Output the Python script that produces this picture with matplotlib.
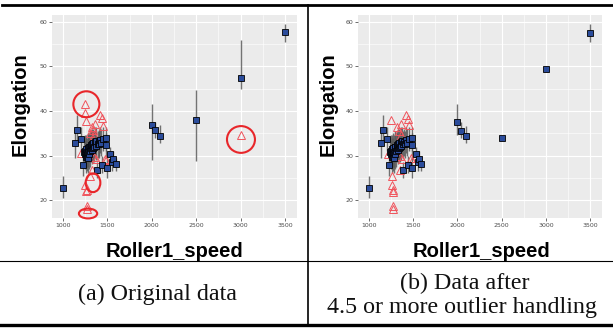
import matplotlib
matplotlib.use("Agg")
import matplotlib.pyplot as plt
from matplotlib.patches import Ellipse
from matplotlib.lines import Line2D
import numpy as np

# ---------------- data ----------------
# blue summary points: speed, mean, low, high  (panel a)
a_speed = [1000, 1135, 1162, 1203, 1226, 1237,
           1245, 1250, 1255, 1260, 1264, 1268, 1272, 1276, 1280, 1285, 1290, 1295,
           1300, 1306, 1312, 1318, 1324, 1330, 1336, 1342, 1350, 1358, 1366, 1374,
           1383, 1390, 1400, 1410, 1420, 1430, 1444, 1455, 1481, 1489, 1492, 1530,
           1556, 1564, 1594, 2000, 2041, 2094, 2500, 3000, 3500]
a_mean = [22.8, 32.9, 35.7, 33.7, 27.8, 30.8,
          30.3, 31.0, 29.6, 30.6, 31.4, 29.9, 30.8, 31.7, 29.5, 30.9, 31.9, 30.4,
          32.0, 31.0, 31.6, 32.3, 31.3, 32.5, 31.7, 32.8, 31.9, 33.0, 32.2, 33.2,
          26.7, 32.6, 33.1, 32.5, 33.4, 32.9, 27.9, 33.8, 33.9, 32.3, 27.3, 30.3,
          28.5, 29.3, 28.1, 36.9, 35.7, 34.4, 37.9, 47.3, 57.6]
a_low = [20.5, 29.5, 32.5, 31.0, 25.5, 27.5,
         27.0, 27.5, 26.0, 27.5, 28.0, 26.5, 27.5, 28.5, 26.0, 27.5, 28.5, 27.0,
         28.5, 27.5, 28.5, 29.0, 28.0, 29.0, 28.5, 29.5, 28.5, 29.5, 29.0, 30.0,
         25.0, 29.5, 30.0, 29.5, 30.5, 30.0, 26.0, 31.0, 31.0, 29.5, 25.0, 28.5,
         26.5, 27.5, 26.5, 29.0, 34.0, 32.8, 28.7, 45.0, 55.5]
a_high = [25.5, 36.0, 39.0, 36.5, 30.5, 34.0,
          33.5, 34.5, 33.0, 34.0, 34.5, 33.0, 34.0, 35.0, 33.0, 34.5, 35.0, 34.0,
          35.5, 34.5, 35.0, 35.5, 34.5, 36.0, 35.0, 36.0, 35.5, 36.5, 35.5, 36.5,
          28.5, 35.5, 36.0, 35.5, 36.5, 36.0, 30.0, 36.5, 36.5, 35.0, 30.0, 32.0,
          30.5, 31.0, 29.5, 41.5, 37.5, 36.8, 44.8, 56.0, 59.4]

# panel b: same points, with the outlier-affected summaries changed
b_speed = list(a_speed)
b_mean = list(a_mean[:-6]) + [37.6, 35.6, 34.4, 34.0, 49.3, 57.5]
b_low = list(a_low[:-6]) + [34.5, 34.0, 32.7, 33.9, 49.0, 55.5]
b_high = list(a_high[:-6]) + [41.5, 37.5, 36.6, 34.1, 49.8, 59.4]

# red outlier triangles: speed, value
a_out_speed = [1252, 1252, 1256, 1421, 1440, 1365, 1451, 1323, 1338, 1308, 1350,
               1207, 1346, 1368, 1470, 1489, 1327, 1300, 1248, 1274, 1256, 1274,
               1274, 3000]
a_out_val = [41.5, 39.5, 37.8, 39.1, 38.5, 37.1, 36.7, 36.4, 35.7, 35.1, 34.6,
             30.5, 29.7, 29.3, 29.3, 29.0, 26.7, 25.4, 23.5, 22.2, 22.1, 18.6,
             18.0, 34.7]
b_out_speed = [1254, 1424, 1439, 1367, 1451, 1322, 1341, 1364, 1352, 1371, 1477,
               1489, 1212, 1352, 1258, 1258, 1269, 1277, 1277, 1277]
b_out_val = [37.9, 39.0, 38.3, 37.1, 36.8, 36.4, 35.6, 34.5, 29.8, 29.3, 29.4,
             28.8, 30.4, 26.7, 25.4, 23.5, 22.2, 21.9, 18.7, 18.0]

# highlighted outliers in panel a: (center speed, center value, width, height)
highlights = [(1263, 41.5, 293, 5.8), (1338, 23.9, 165, 4.2),
              (1282, 17.0, 206, 2.2), (3004, 33.6, 315, 6.0)]

x_ticks = [1000, 1500, 2000, 2500, 3000, 3500]
y_ticks = [20, 30, 40, 50, 60]
captions_a = "(a) Original data"
captions_b = ["(b) Data after", "4.5 or more outlier handling"]

# ---------------- figure ----------------
W, H = 613, 328
fig = plt.figure(figsize=(W / 100, H / 100), dpi=100)
fig.patch.set_facecolor("white")

def fx(px):
    return px / W

def fy(py):
    return 1 - py / H

label_font = ["Liberation Sans", "DejaVu Sans"]

def panel(rect, speed, mean, low, high, o_speed, o_val, ylab_x, xlab_x):
    ax = fig.add_axes(rect)
    ax.set_facecolor("#EBEBEB")
    ax.set_xlim(876, 3635)
    ax.set_ylim(16.0, 61.5)
    ax.set_xticks(x_ticks)
    ax.set_yticks(y_ticks)
    ax.set_xticks([1250, 1750, 2250, 2750, 3250], minor=True)
    ax.set_yticks([25, 35, 45, 55], minor=True)
    ax.grid(True, which="major", color="white", lw=0.8)
    ax.grid(True, which="minor", color="white", lw=0.4)
    ax.set_axisbelow(True)
    for s in ax.spines.values():
        s.set_visible(False)
    ax.tick_params(which="major", length=2, width=0.5, color="#333333",
                   labelsize=4.5, labelcolor="#4D4D4D", pad=1.5)
    ax.tick_params(which="minor", length=0)
    ax.vlines(speed, low, high, color="#5a5a5a", lw=1.0, alpha=0.85, zorder=2)
    ax.plot(o_speed, o_val, linestyle="none", marker="^", ms=5.2,
            mfc="none", mec="#F0545C", mew=0.7, zorder=3)
    ax.plot(speed, mean, linestyle="none", marker="s", ms=4.0,
            mfc="#2B4C9B", mec="black", mew=0.6, zorder=4)
    ax.set_xlabel("Roller1_speed", fontsize=14.5, fontweight="bold",
                  family=label_font)
    ax.set_ylabel("Elongation", fontsize=14.5, fontweight="bold",
                  family=label_font)
    ax.xaxis.set_label_coords(xlab_x, -0.118)
    ax.yaxis.set_label_coords(ylab_x, 0.56)
    return ax

rect_a = [fx(52), fy(218), fx(297 - 52), (218 - 15) / H]
rect_b = [fx(358), fy(218), fx(602 - 358), (218 - 15) / H]
ax_a = panel(rect_a, a_speed, a_mean, a_low, a_high, a_out_speed, a_out_val,
             -0.09, 0.50)
ax_b = panel(rect_b, b_speed, b_mean, b_low, b_high, b_out_speed, b_out_val,
             -0.082, 0.508)

for cx, cy, w, h in highlights:
    ax_a.add_patch(Ellipse((cx, cy), w, h, fill=False, edgecolor="#E8262A",
                           lw=1.5, zorder=5, clip_on=False))

# table lines
fig.add_artist(Line2D([fx(2), 1], [fy(5), fy(5)], color="black", lw=2.0))
fig.add_artist(Line2D([0, 1], [fy(261), fy(261)], color="black", lw=0.8))
fig.add_artist(Line2D([0, 1], [fy(325), fy(325)], color="black", lw=2.4))
fig.add_artist(Line2D([fx(307.5), fx(307.5)], [fy(5), fy(325)], color="black", lw=1.2))

serif = ["Liberation Serif", "DejaVu Serif"]
fig.text(fx(158), fy(294), captions_a, ha="center", va="center",
         fontsize=17.3, family=serif, color="#111111")
fig.text(fx(465), fy(283), captions_b[0], ha="center", va="center",
         fontsize=17.3, family=serif, color="#111111")
fig.text(fx(462), fy(308), captions_b[1], ha="center", va="center",
         fontsize=17.3, family=serif, color="#111111")

fig.savefig("out.png", dpi=100)
